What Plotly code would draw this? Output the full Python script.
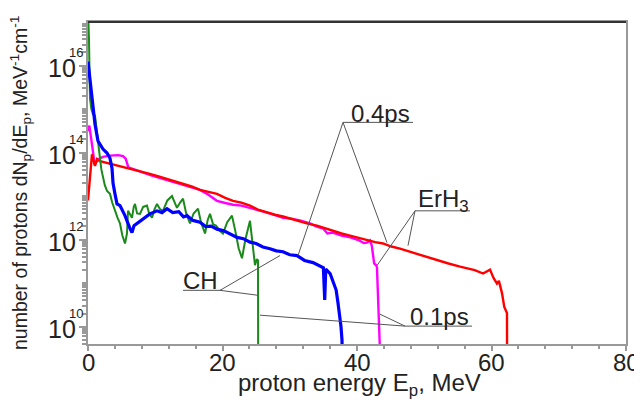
import numpy as np
import plotly.graph_objects as go

# Proton spectra: energy (MeV) and log10 of dN/dE
ch_01_x = [0.0, 0.15, 0.25, 0.3, 0.5, 0.74, 1.04, 1.2, 1.34, 1.6, 1.78, 2.0, 2.23, 2.5, 2.83,
           3.27, 3.6, 4.01, 4.4, 4.76, 5.1, 5.5, 5.8, 5.95, 6.3, 6.54, 6.8, 6.99, 7.3, 7.73,
           8.2, 8.77, 9.1, 9.52, 9.9, 10.26, 10.7, 11.15, 11.8, 12.49, 12.9, 13.23, 13.7,
           14.13, 14.6, 15.17, 15.7, 16.36, 16.8, 17.4, 17.8, 18.14, 18.6, 19.03, 19.6,
           20.07, 20.7, 21.41, 21.9, 22.4, 22.9, 23.4, 24.09, 24.5, 24.83, 25.1, 25.28, 25.3]
ch_01_log = [17.3, 16.6, 15.6, 15.24, 15.0, 14.88, 14.85, 14.6, 14.42, 14.1, 13.87, 13.6, 13.42,
             13.25, 13.12, 13.05, 12.85, 12.66, 12.5, 12.37, 12.1, 11.91, 12.14, 12.66, 12.55,
             12.5, 12.75, 12.82, 12.6, 12.59, 12.75, 12.78, 12.6, 12.5, 12.7, 12.82, 12.7, 12.66,
             12.9, 13.0, 12.85, 12.73, 12.85, 12.94, 12.6, 12.37, 12.6, 12.71, 12.4, 12.14, 12.45,
             12.59, 12.35, 12.32, 12.2, 12.14, 12.4, 12.55, 12.2, 11.8, 11.57, 12.0, 12.43, 11.9,
             11.41, 11.55, 11.52, 9.3]

ch_04_x = [0.0, 0.45, 0.74, 1.04, 1.49, 2.23, 2.83, 3.27, 3.57, 3.72, 4.01, 4.31, 4.76, 5.5,
           6.25, 6.54, 6.84, 7.73, 8.5, 9.2, 10.26, 11.0, 11.75, 12.6, 13.5, 14.2, 14.72, 15.6,
           16.65, 17.5, 18.3, 19.18, 20.2, 21.2, 22.16, 23.1, 24.1, 25.0, 26.0, 27.06, 28.0,
           29.0, 30.0, 31.08, 32.2, 33.46, 34.5, 35.0, 35.2, 35.35, 36.0, 36.43, 36.9, 37.17,
           37.47, 37.62, 37.77, 37.8]
ch_04_log = [16.09, 15.47, 15.01, 14.65, 14.26, 14.08, 13.99, 13.87, 13.64, 13.3, 13.05, 12.82,
             12.78, 12.55, 12.25, 12.16, 12.32, 12.43, 12.52, 12.59, 12.66, 12.62, 12.71, 12.62,
             12.64, 12.52, 12.55, 12.44, 12.4, 12.3, 12.31, 12.24, 12.2, 12.13, 12.05, 12.02,
             11.94, 11.91, 11.83, 11.79, 11.74, 11.72, 11.65, 11.63, 11.52, 11.47, 11.4, 11.35,
             10.61, 11.32, 11.22, 11.06, 10.84, 10.55, 10.2, 10.0, 9.69, 9.3]

erh_01_x = [0.0, 0.2, 0.6, 1.0, 1.49, 2.2, 3.3, 4.5, 5.2, 5.6, 6.0, 6.7, 8.0, 9.5, 11.0, 12.5,
            14.0, 15.5, 16.65, 17.9, 19.18, 20.4, 21.56, 22.8, 24.1, 25.3, 26.6, 27.8, 29.0,
            30.2, 31.5, 33.0, 34.0, 35.0, 35.6, 36.4, 37.7, 39.0, 40.2, 41.0, 41.49, 41.93,
            42.2, 42.55, 42.85, 42.97, 43.1, 43.27, 43.42, 43.45]
erh_01_log = [14.49, 14.62, 14.18, 13.72, 13.84, 13.9, 13.93, 13.94, 13.92, 13.86, 13.66, 13.62,
              13.54, 13.47, 13.4, 13.33, 13.27, 13.2, 13.14, 13.03, 12.89, 12.84, 12.8, 12.78,
              12.73, 12.68, 12.62, 12.56, 12.5, 12.48, 12.44, 12.37, 12.3, 12.25, 12.14, 12.16,
              12.09, 12.05, 11.99, 11.92, 11.93, 11.98, 11.86, 11.45, 11.41, 11.36, 10.9, 10.31,
              9.69, 9.3]

erh_04_x = [0.0, 0.3, 0.59, 1.04, 1.34, 1.78, 2.83, 4.0, 5.5, 6.69, 8.0, 9.2, 10.5, 11.75, 13.0,
            14.13, 15.4, 16.65, 17.9, 19.18, 20.4, 21.56, 22.8, 24.09, 25.4, 26.62, 27.8, 29.0,
            30.3, 31.52, 32.8, 34.05, 35.2, 36.43, 37.7, 38.96, 40.2, 41.49, 42.7, 43.87, 45.1,
            46.39, 47.6, 48.92, 50.1, 51.3, 52.5, 53.6, 55.32, 56.6, 57.5, 58.74, 59.3, 59.78,
            60.3, 60.82, 61.1, 61.26, 61.56, 61.9, 62.1, 62.3, 62.32]
erh_04_log = [12.9, 13.5, 13.96, 13.69, 13.85, 13.8, 13.76, 13.72, 13.66, 13.62, 13.57, 13.51,
              13.45, 13.39, 13.33, 13.28, 13.22, 13.14, 13.09, 13.05, 12.96, 12.89, 12.85, 12.78,
              12.68, 12.62, 12.57, 12.53, 12.47, 12.43, 12.36, 12.32, 12.26, 12.21, 12.14, 12.09,
              12.04, 11.98, 11.94, 11.91, 11.84, 11.79, 11.73, 11.68, 11.62, 11.55, 11.5, 11.45,
              11.38, 11.33, 11.3, 11.22, 11.26, 11.31, 11.12, 10.99, 11.05, 10.95, 10.77, 10.45,
              10.36, 10.31, 9.3]

y_tick_exp = [10, 12, 14, 16]
x_tick_vals = [0, 20, 40, 60, 80]

FONT = 'Liberation Sans, Arial, sans-serif'
TEXT = '#222222'
AXIS = '#999999'
LEADER = '#555555'

# plot area in page pixels: x 88..626, y 20..344 (page body adds an 8px offset)
def px_x(p):
    return (p - 88) / 538

def px_y(p):
    return (344 - p) / 324

def note(**kw):
    fig.add_annotation(showarrow=False, xanchor='center', yanchor='middle', **kw)

fig = go.Figure()

series = [
    (erh_01_x, erh_01_log, '#ff00ff', 2.4),
    (erh_04_x, erh_04_log, '#ff0000', 2.4),
    (ch_01_x, ch_01_log, '#1a8a1a', 2.0),
    (ch_04_x, ch_04_log, '#0000ff', 3.2),
]
for xs, logs, color, w in series:
    fig.add_trace(go.Scatter(x=xs, y=10 ** np.array(logs), mode='lines',
                             line=dict(color=color, width=w), showlegend=False))

# labels with underline and leader lines (page pixel positions)
labels = [
    ('0.4ps', 380, 112, [(343, 121, 413, 121), (343, 121, 298, 255), (343, 121, 387, 242)]),
    ('ErH<sub>3</sub>', 443, 200, [(415, 210, 470, 210), (415, 210, 377, 265), (415, 210, 408, 245)]),
    ('CH', 200, 280, [(183, 290, 222, 290), (220, 290, 280, 255), (220, 290, 258, 295)]),
    ('0.1ps', 439, 316, [(405, 326, 472, 326), (405, 326, 260, 315), (405, 326, 380, 314)]),
]
for text, tx, ty, segs in labels:
    note(x=px_x(tx), y=px_y(ty), xref='paper', yref='paper', text=text,
         font=dict(size=24, color=TEXT, family=FONT))
    for x0, y0, x1, y1 in segs:
        fig.add_shape(type='line', xref='paper', yref='paper',
                      x0=px_x(x0), y0=px_y(y0), x1=px_x(x1), y1=px_y(y1),
                      line=dict(color=LEADER, width=1))

# y tick labels: big "10" with a small exponent tucked against it
for e in y_tick_exp:
    note(x=px_x(62), y=e, xref='paper', yref='y', text='10', yshift=-2,
         font=dict(size=25, color=TEXT, family=FONT))
    note(x=px_x(76), y=e, xref='paper', yref='y', text=str(e), yshift=13,
         font=dict(size=13, color=TEXT, family=FONT))

# x tick labels
for v in x_tick_vals:
    note(x=v, y=px_y(363), xref='x', yref='paper', text=str(v),
         font=dict(size=24, color=TEXT, family=FONT))

# dark top frame line
fig.add_shape(type='line', xref='paper', yref='paper', x0=0, y0=1, x1=1, y1=1,
              line=dict(color='#333333', width=2))

note(x=px_x(20), y=px_y(182), xref='paper', yref='paper', textangle=-90,
     text='number of protons dN<sub>p</sub>/dE<sub>p</sub>, MeV<sup>-1</sup>cm<sup>-1</sup>',
     font=dict(size=19.5, color=TEXT, family=FONT))
note(x=px_x(359), y=px_y(385), xref='paper', yref='paper',
     text='proton energy E<sub>p</sub>, MeV',
     font=dict(size=24, color=TEXT, family=FONT))

minor_y = [k * 10.0 ** n for n in range(9, 17) for k in range(1, 10)]

fig.update_xaxes(range=[0, 80], tickvals=x_tick_vals, showticklabels=False,
                 ticks='outside', ticklen=5,
                 tickcolor=AXIS, tickwidth=1.5, showline=True, linecolor=AXIS, linewidth=2,
                 mirror=True, showgrid=False, zeroline=False,
                 minor=dict(dtick=4, ticks='outside', ticklen=3, tickcolor=AXIS))
fig.update_yaxes(type='log', range=[9.6, 17.0], tickvals=[10.0 ** e for e in y_tick_exp],
                 showticklabels=False,
                 ticks='outside', ticklen=7, tickcolor=AXIS, tickwidth=1.5, showline=True,
                 linecolor=AXIS, linewidth=2, mirror=True, showgrid=False, zeroline=False,
                 minor=dict(tickvals=minor_y, ticks='outside', ticklen=4, tickcolor=AXIS))

fig.update_layout(width=642, height=405, margin=dict(l=80, r=24, t=12, b=69),
                  plot_bgcolor='white', paper_bgcolor='white')

fig.write_html("out.html")
